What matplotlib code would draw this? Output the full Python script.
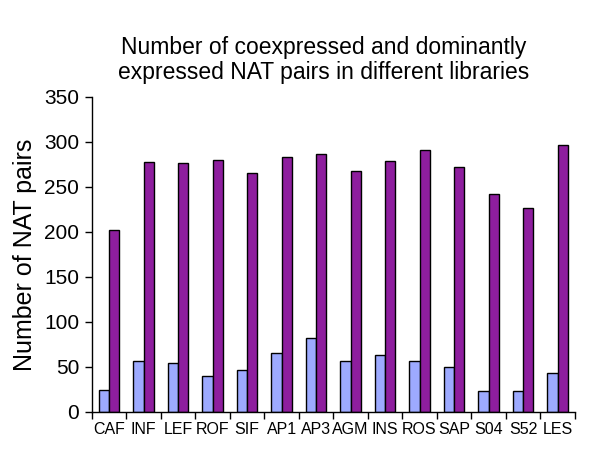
import numpy as np
import matplotlib
matplotlib.use('Agg')
import matplotlib.pyplot as plt

plt.rcParams['font.family'] = ['Liberation Sans', 'DejaVu Sans']

libraries = ['CAF', 'INF', 'LEF', 'ROF', 'SIF', 'AP1', 'AP3',
             'AGM', 'INS', 'ROS', 'SAP', 'S04', 'S52', 'LES']
dominant = [24, 57, 54, 40, 47, 65, 82, 56, 63, 57, 50, 23, 23, 43]
coexpressed = [202, 278, 276, 280, 265, 283, 287, 268, 279, 291, 272, 242, 226, 296]
yticks = [0, 50, 100, 150, 200, 250, 300, 350]

fig = plt.figure(figsize=(6, 4.68), dpi=100)
ax = fig.add_axes([0.153, 0.12, 0.805, 0.673])

x = np.arange(len(libraries))
w = 0.3
ax.bar(x - w / 2, dominant, width=w, color='#9DAAFF', edgecolor='black', linewidth=1.0)
ax.bar(x + w / 2, coexpressed, width=w, color='#8E1E9E', edgecolor='black', linewidth=1.0)

ax.set_xlim(-0.5, len(libraries) - 0.5)
ax.set_ylim(0, 350)
ax.set_yticks(yticks)
ax.tick_params(axis='y', labelsize=15, length=5, width=1, direction='out', pad=4)

# tick marks sit between categories, labels at the centres
ax.set_xticks(np.arange(len(libraries) + 1) - 0.5)
ax.set_xticklabels([])
ax.set_xticks(x, minor=True)
ax.set_xticklabels(libraries, minor=True, fontsize=11.5)
ax.tick_params(axis='x', which='major', length=5, width=1, direction='out')
ax.tick_params(axis='x', which='minor', length=0, pad=7)

for s in ['top', 'right']:
    ax.spines[s].set_visible(False)
for s in ['left', 'bottom']:
    ax.spines[s].set_linewidth(1.0)

ax.set_ylabel('Number of NAT pairs', fontsize=18, labelpad=5)
fig.text(0.54, 0.872, 'Number of coexpressed and dominantly\nexpressed NAT pairs in different libraries',
         ha='center', va='center', fontsize=16.5, linespacing=1.1)

plt.savefig('out.png', dpi=100)
